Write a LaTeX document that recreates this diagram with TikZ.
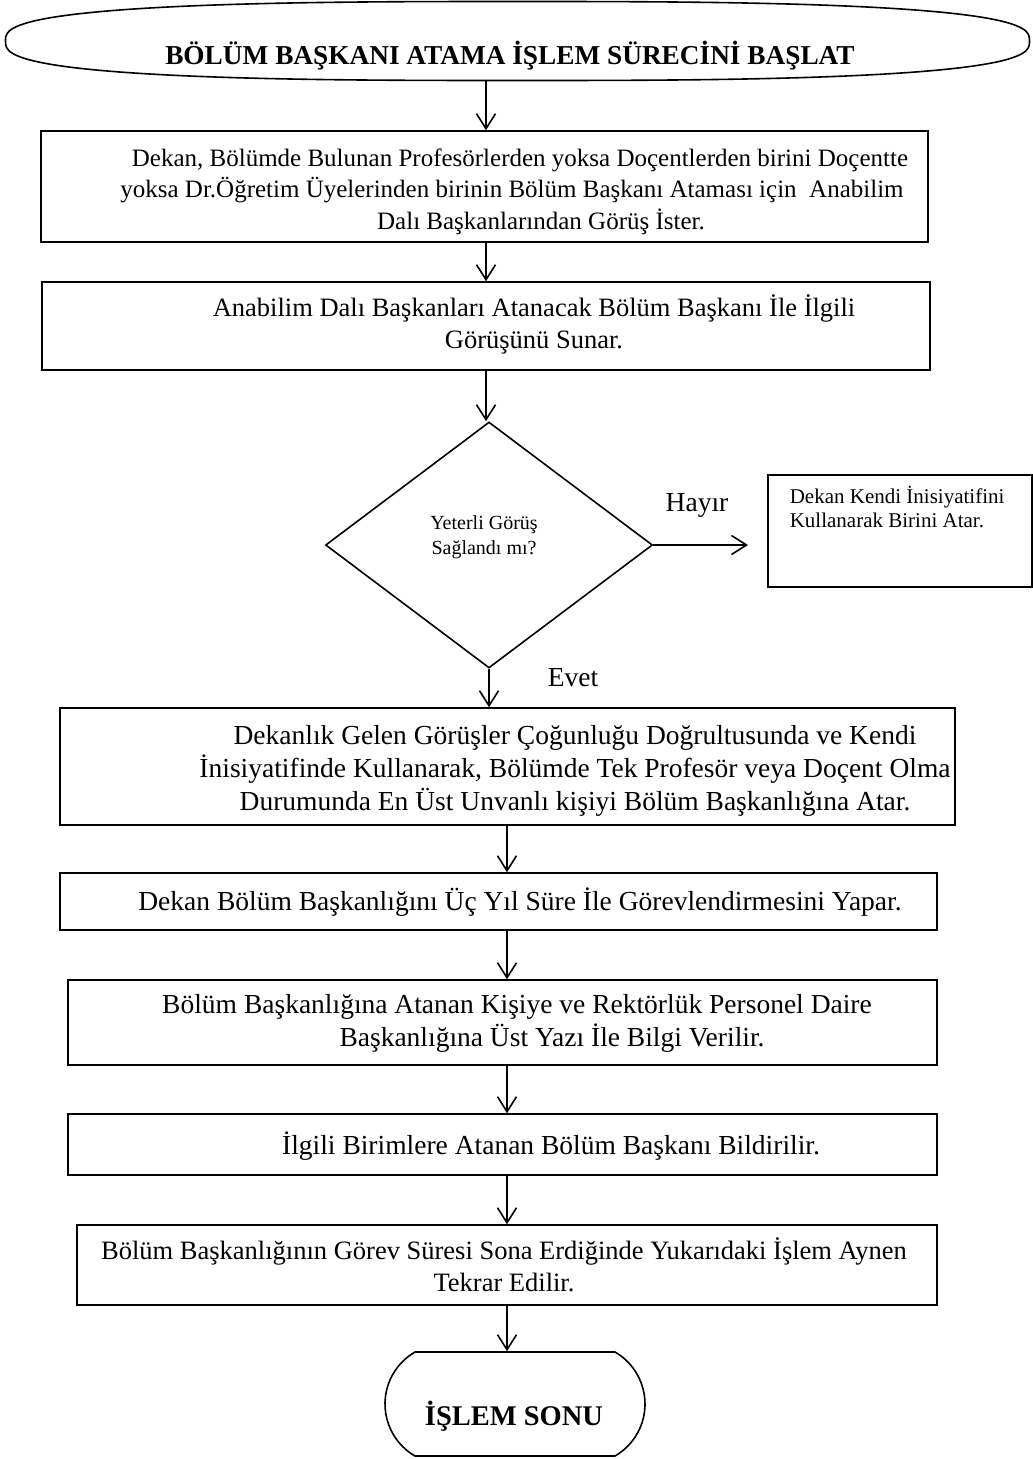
\documentclass[tikz,border=0pt]{standalone}
\usepackage{fontspec}
\setmainfont{Liberation Serif}
\usetikzlibrary{shapes.geometric,shapes.misc,arrows.meta,calc}

\begin{document}
\begin{tikzpicture}[x=1pt,y=-1pt,
  line width=1.6pt,
  box/.style={draw, line width=1.6pt, inner sep=0pt},
  txt/.style={font=\fontsize{27.5}{31.5}\selectfont, align=center, inner sep=0pt},
  txtsm/.style={font=\fontsize{25}{31.5}\selectfont, align=center, inner sep=0pt},
  txtmd/.style={font=\fontsize{26.5}{31.5}\selectfont, align=center, inner sep=0pt},
  smalltxt/.style={font=\fontsize{20}{25}\selectfont, inner sep=0pt},
  sidetxt/.style={font=\fontsize{21}{24}\selectfont, inner sep=0pt},
  bigbold/.style={font=\fontsize{27.3}{31}\selectfont\bfseries, inner sep=0pt},
  arr/.style={-{Straight Barb[length=15pt,width=19pt]}, line width=1.6pt},
]
\useasboundingbox (0,0) rectangle (1033,1459);

% vertical guide lines for the connectors
\coordinate (spineA) at (486,0);
\coordinate (spineB) at (507,0);

% start terminal: a slightly squarish ellipse outline around an anchor node
\node[ellipse, minimum width=1024pt, minimum height=79pt, inner sep=0pt] (start) at (517.5,41) {};
\draw[line width=1.6pt] plot[domain=0.5:360.5, samples=181, variable=\t, smooth]
  ({517.5 + 512*sign(cos(\t))*abs(cos(\t))^(0.714)},
   {41 + 39.5*sign(sin(\t))*abs(sin(\t))^(0.714)}) -- cycle;
\node[bigbold, anchor=base] (starttxt) at (510,64) {BÖLÜM BAŞKANI ATAMA İŞLEM SÜRECİNİ BAŞLAT};

% step 1
\node[box, minimum width=887pt, minimum height=111pt] (box1) at (484.5,186.5) {};
\node[txtsm] (t1) at (512,191.5) {\strut Dekan, Bölümde Bulunan Profesörlerden yoksa Doçentlerden birini Doçentte\hspace*{-16pt}\\
\strut yoksa Dr.Öğretim Üyelerinden birinin Bölüm Başkanı Ataması için\ \ Anabilim\hspace*{50pt}\\
\strut\hspace*{58pt}Dalı Başkanlarından Görüş İster.};

% step 2
\node[box, minimum width=888pt, minimum height=88pt] (box2) at (486,326) {};
\node[txtmd] (t2) at (534,326) {\strut Anabilim Dalı Başkanları Atanacak Bölüm Başkanı İle İlgili\\
\strut Görüşünü Sunar.};

% decision
\node[box, diamond, minimum width=327pt, minimum height=246pt, shape aspect=1.33] (dec) at (489,545) {};
\node[smalltxt, align=center] (dectxt) at (484,537) {\strut Yeterli Görüş\\ \strut Sağlandı mı?};

% "no" branch
\node[box, minimum width=264pt, minimum height=112pt] (nobox) at (900,531) {};
\node[sidetxt, align=left, anchor=west] (notxt) at (789,510.5) {\strut Dekan Kendi İnisiyatifini\\ \strut Kullanarak Birini Atar.};
\coordinate (noend) at (748,545);
\node[txt] (hayir) at (697,505) {\strut Hayır};

% "yes" label
\node[txt] (evet) at (573,680) {\strut Evet};

% step 3
\node[box, minimum width=895pt, minimum height=117pt] (box4) at (507.5,766.5) {};
\node[txt] (t4) at (575,771) {\strut Dekanlık Gelen Görüşler Çoğunluğu Doğrultusunda ve Kendi\\
\strut İnisiyatifinde Kullanarak, Bölümde Tek Profesör veya Doçent Olma\\
\strut Durumunda En Üst Unvanlı kişiyi Bölüm Başkanlığına Atar.};

% step 4
\node[box, minimum width=877pt, minimum height=57pt] (box5) at (498.5,901.5) {};
\node[txt] (t5) at (520,904) {\strut Dekan Bölüm Başkanlığını Üç Yıl Süre İle Görevlendirmesini Yapar.};

% step 5
\node[box, minimum width=869pt, minimum height=85pt] (box6) at (502.5,1022.5) {};
\node[txt] (t6) at (530,1024) {\strut Bölüm Başkanlığına Atanan Kişiye ve Rektörlük Personel Daire\hspace*{26pt}\\
\strut\hspace*{44pt}Başkanlığına Üst Yazı İle Bilgi Verilir.};

% step 6
\node[box, minimum width=869pt, minimum height=61pt] (box7) at (502.5,1144.5) {};
\node[txt] (t7) at (551,1148) {\strut İlgili Birimlere Atanan Bölüm Başkanı Bildirilir.};

% step 7
\node[box, minimum width=860pt, minimum height=80pt] (box8) at (507,1265) {};
\node[txtmd] (t8) at (504,1269) {\strut Bölüm Başkanlığının Görev Süresi Sona Erdiğinde Yukarıdaki İşlem Aynen\\
\strut Tekrar Edilir.};

% end terminal
\node[box, rounded rectangle, rounded rectangle arc length=120, minimum width=260pt, minimum height=104pt] (stop) at (515,1404) {};
\node[font=\fontsize{28.5}{32}\selectfont\bfseries, inner sep=0pt, anchor=base] (stoptxt) at (514,1425) {İŞLEM SONU};

% connectors
\draw[arr] (start.south -| spineA) -- (box1.north -| spineA);
\draw[arr] (box1.south -| spineA) -- (box2.north -| spineA);
\draw[arr] (box2.south -| spineA) -- (dec.north -| spineA);
\draw[arr] (dec.east) -- (noend);
\draw[arr] (dec.south) -- (box4.north -| dec.south);
\draw[arr] (box4.south -| spineB) -- (box5.north -| spineB);
\draw[arr] (box5.south -| spineB) -- (box6.north -| spineB);
\draw[arr] (box6.south -| spineB) -- (box7.north -| spineB);
\draw[arr] (box7.south -| spineB) -- (box8.north -| spineB);
\draw[arr] (box8.south -| spineB) -- (stop.north -| spineB);
\end{tikzpicture}
\end{document}
